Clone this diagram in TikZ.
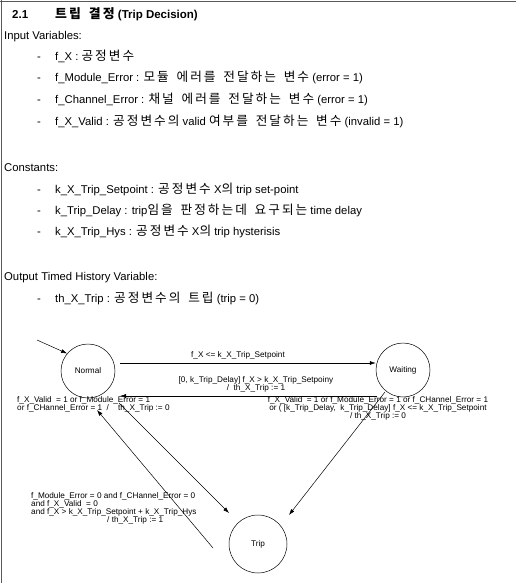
\documentclass[tikz,border=0pt]{standalone}
\usepackage{fontspec}
\setmainfont{Liberation Sans}
\newfontfamily\kr{Noto Sans CJK KR}[Scale=1.12,LetterSpace=16,WordSpace=1.6]
\usetikzlibrary{arrows.meta}
\newcommand\K[1]{{\kr #1}}
\begin{document}
\begin{tikzpicture}[x=1pt,y=-1pt,
 body/.style={anchor=west,inner sep=0pt,text height=8.5pt,text depth=2.5pt,font=\fontsize{11.3}{13}\selectfont},
 dg/.style={inner sep=0pt,font=\fontsize{8.2}{8.2}\selectfont},
 st/.style={draw,circle,minimum size=54pt,inner sep=0pt,line width=0.5pt,font=\fontsize{8.2}{9}\selectfont},
 arr/.style={line width=0.5pt,-{Latex[length=6pt,width=4pt]}},
 ln/.style={line width=0.5pt}]
\useasboundingbox (0,0) rectangle (516,583);
\fill[white] (0,0) rectangle (516,583);
\draw[line width=1.5pt,black!65] (0,1.5) -- (516,1.5) (1.5,0) -- (1.5,583);
% title
\node[body,font=\bfseries\fontsize{11.5}{13}\selectfont] (tnum) at (12,16) {2.1};
\node[body,font=\bfseries\fontsize{11.5}{13}\selectfont] (ttl) at (55,16) {\K{\bfseries 트립 결정} (Trip Decision)};
\node[body] (inp) at (4,37) {Input Variables:};
\node[body] (d1) at (37,58) {-};
\node[body] (i1) at (55,58) {f\_X : \K{공정변수}};
\node[body] (d2) at (37,79) {-};
\node[body] (i2) at (55,79) {f\_Module\_Error : \K{모듈 에러를 전달하는 변수} (error = 1)};
\node[body] (d3) at (37,101) {-};
\node[body] (i3) at (55,101) {f\_Channel\_Error : \K{채널 에러를 전달하는 변수} (error = 1)};
\node[body] (d4) at (37,122) {-};
\node[body] (i4) at (55,122) {f\_X\_Valid : \K{공정변수의} valid \K{여부를 전달하는 변수} (invalid = 1)};
\node[body] (con) at (4,168) {Constants:};
\node[body] (d5) at (37,190) {-};
\node[body] (c1) at (55,190) {k\_X\_Trip\_Setpoint : \K{공정변수} X\K{의} trip set-point};
\node[body] (d6) at (37,211) {-};
\node[body] (c2) at (55,211) {k\_Trip\_Delay : trip\K{임을 판정하는데 요구되는} time delay};
\node[body] (d7) at (37,232) {-};
\node[body] (c3) at (55,232) {k\_X\_Trip\_Hys : \K{공정변수} X\K{의} trip hysterisis};
\node[body] (out) at (4,277) {Output Timed History Variable:};
\node[body] (d8) at (37,299) {-};
\node[body] (o1) at (55,299) {th\_X\_Trip : \K{공정변수의 트립} (trip = 0)};
% states
\node[st] (normal) at (88,371) {Normal};
\node[st] (waiting) at (403,370) {Waiting};
\node[st,minimum size=58pt] (trip) at (258,544) {Trip};
% connector ends
\coordinate (init) at (37,340);
\coordinate (nw1) at (120,363);
\coordinate (wn1) at (377,396);
\coordinate (nw2) at (120,396);
\coordinate (nt1) at (119,403);
\coordinate (nt2) at (229,513);
\coordinate (tn1) at (213,548);
\coordinate (tn2) at (97,410);
\coordinate (wt1) at (385,392);
\coordinate (wt2) at (289,515);
\draw[arr] (init) -- (normal.140);
\draw[arr] (nw1) -- (waiting.west |- nw1);
\draw[arr] (wn1) -- (nw2);
\draw[arr] (nt1) -- (nt2);
\draw[arr] (tn1) -- (tn2);
\draw[arr] (wt1) -- (wt2);
% labels
\node[dg] (l1) at (238,355) {f\_X <= k\_X\_Trip\_Setpoint};
\node[dg,align=center] (l2) at (256,384) {[0, k\_Trip\_Delay] f\_X > k\_X\_Trip\_Setpoiny\\/ \ th\_X\_Trip := 1};
\node[dg,align=left,anchor=north west] (l3) at (17,396) {f\_X\_Valid \ = 1 or f\_Module\_Error = 1\\or f\_CHannel\_Error = 1 \ / \ \ \ th\_X\_Trip := 0};
\node[dg,align=center,anchor=north] (l4) at (378,396) {f\_X\_Valid \ = 1 or f\_Module\_Error = 1 or f\_CHannel\_Error = 1\\or ( [k\_Trip\_Delay, \ k\_Trip\_Delay] f\_X <= k\_X\_Trip\_Setpoint\\/ th\_X\_Trip := 0};
\node[dg,align=left,anchor=north west] (l5) at (31,492) {f\_Module\_Error = 0 and f\_CHannel\_Error = 0\\and f\_X\_Valid \ = 0\\and f\_X > k\_X\_Trip\_Setpoint + k\_X\_Trip\_Hys\\\hspace*{76pt}/ th\_X\_Trip := 1};
\end{tikzpicture}
\end{document}
